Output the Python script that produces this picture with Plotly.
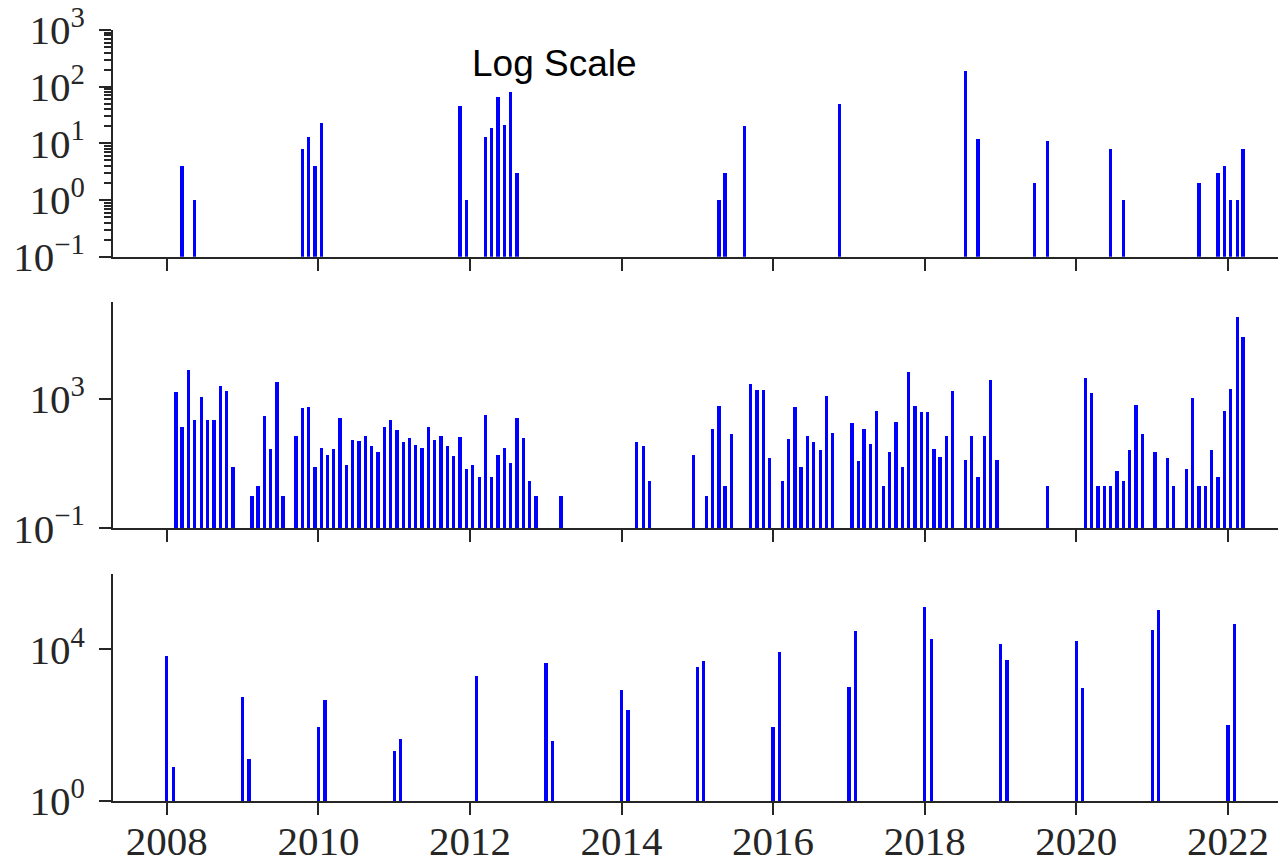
import plotly.graph_objects as go

# ---------------- data ----------------
top_months = ["2008-03", "2008-05", "2009-10", "2009-11", "2009-12", "2010-01",
              "2011-11", "2011-12", "2012-03", "2012-04", "2012-05", "2012-06",
              "2012-07", "2012-08", "2015-04", "2015-05", "2015-08", "2016-11",
              "2018-07", "2018-09", "2019-06", "2019-08", "2020-06", "2020-08",
              "2021-08", "2021-11", "2021-12", "2022-01", "2022-02", "2022-03"]
top_values = [4, 1, 8, 13, 4, 23, 45, 1, 13, 19, 66, 21, 80, 3, 1, 3, 20, 50,
              190, 12, 2, 11, 8, 1, 2, 3, 4, 1, 1, 8]

mid_months = ["2008-02", "2008-03", "2008-04", "2008-05", "2008-06", "2008-07",
              "2008-08", "2008-09", "2008-10", "2008-11", "2009-02", "2009-03",
              "2009-04", "2009-05", "2009-06", "2009-07", "2009-09", "2009-10",
              "2009-11", "2009-12", "2010-01", "2010-02", "2010-03", "2010-04",
              "2010-05", "2010-06", "2010-07", "2010-08", "2010-09", "2010-10",
              "2010-11", "2010-12", "2011-01", "2011-02", "2011-03", "2011-04",
              "2011-05", "2011-06", "2011-07", "2011-08", "2011-09", "2011-10",
              "2011-11", "2011-12", "2012-01", "2012-02", "2012-03", "2012-04",
              "2012-05", "2012-06", "2012-07", "2012-08", "2012-09", "2012-10",
              "2012-11", "2013-03", "2014-03", "2014-04", "2014-05", "2014-12",
              "2015-02", "2015-03", "2015-04", "2015-05", "2015-06", "2015-09",
              "2015-10", "2015-11", "2015-12", "2016-02", "2016-03", "2016-04",
              "2016-05", "2016-06", "2016-07", "2016-08", "2016-09", "2016-10",
              "2017-01", "2017-02", "2017-03", "2017-04", "2017-05", "2017-06",
              "2017-07", "2017-08", "2017-09", "2017-10", "2017-11", "2017-12",
              "2018-01", "2018-02", "2018-03", "2018-04", "2018-05", "2018-07",
              "2018-08", "2018-09", "2018-10", "2018-11", "2018-12", "2019-08",
              "2020-02", "2020-03", "2020-04", "2020-05", "2020-06", "2020-07",
              "2020-08", "2020-09", "2020-10", "2020-11", "2021-01", "2021-03",
              "2021-04", "2021-06", "2021-07", "2021-08", "2021-09", "2021-10",
              "2021-11", "2021-12", "2022-01", "2022-02", "2022-03"]
mid_values = [1640, 137, 8070, 225, 1150, 225,
              225, 2530, 1770, 8, 1, 2,
              300, 29, 3440, 1, 71, 516,
              582, 8, 32, 19, 29, 267,
              9, 56, 52, 71, 36, 23,
              137, 225, 113, 49, 64, 39,
              31, 137, 56, 71, 36, 18,
              67, 7, 9, 4, 320, 4,
              19, 30, 11, 267, 63, 3,
              1, 1, 48, 35, 3, 19,
              1, 122, 625, 2, 86, 2990,
              1850, 1850, 15, 3, 60, 582,
              8, 71, 49, 26, 1270, 92,
              187, 12, 122, 41, 439, 2,
              24, 200, 8, 6670, 625, 389,
              400, 29, 16, 71, 1770, 13,
              74, 4, 71, 3780, 13, 2,
              4570, 1575, 2, 2, 2, 6,
              3, 26, 671, 86, 24, 15,
              2, 7, 1074, 2, 2, 27,
              4, 417, 2095, 340000, 84300]

bot_months = ["2008-01", "2008-02", "2009-01", "2009-02", "2010-01", "2010-02",
              "2011-01", "2011-02", "2012-02", "2013-01", "2013-02", "2014-01",
              "2014-02", "2015-01", "2015-02", "2016-01", "2016-02", "2017-01",
              "2017-02", "2018-01", "2018-02", "2019-01", "2019-02", "2020-01",
              "2020-02", "2021-01", "2021-02", "2022-01", "2022-02"]
bot_values = [6800, 8, 580, 13, 90, 460,
              22, 43, 2080, 4550, 39, 865,
              263, 3490, 5030, 93, 8900, 1020,
              30600, 137000, 19200, 14100, 5250, 17400,
              960, 32500, 112000, 103, 49000]

x_tick_years = list(range(2008, 2023, 2))

top_tickvals = [0.1, 1, 10, 100, 1000]
top_ticktext = ["10<sup>\u22121</sup>", "10<sup>0</sup>", "10<sup>1</sup>",
                "10<sup>2</sup>", "10<sup>3</sup>"]
mid_tickvals = [0.1, 1000]
mid_ticktext = ["10<sup>\u22121</sup>", "10<sup>3</sup>"]
bot_tickvals = [1, 10000]
bot_ticktext = ["10<sup>0</sup>", "10<sup>4</sup>"]

title_text = "Log Scale"

# ---------------- style ----------------
BLUE = "#0000FF"
AX = "#262626"
SERIF = "Liberation Serif, Times New Roman, serif"
BAR_W = 16 * 24 * 3600 * 1000  # ms
X_RANGE = ["2007-04-17", "2022-10-08"]

fig = go.Figure()
fig.add_trace(go.Bar(x=[m + "-15" for m in top_months], y=top_values,
                     xaxis="x", yaxis="y", width=BAR_W,
                     marker=dict(color=BLUE, line=dict(width=0))))
fig.add_trace(go.Bar(x=[m + "-15" for m in mid_months], y=mid_values,
                     xaxis="x2", yaxis="y2", width=BAR_W,
                     marker=dict(color=BLUE, line=dict(width=0))))
fig.add_trace(go.Bar(x=[m + "-01" for m in bot_months], y=bot_values,
                     xaxis="x3", yaxis="y3", width=BAR_W,
                     marker=dict(color=BLUE, line=dict(width=0))))

tickvals_x = [f"{y}-01-01" for y in x_tick_years]
ticktext_x = [str(y) for y in x_tick_years]


def xaxis(anchor, labels):
    return dict(type="date", anchor=anchor, domain=[0, 1], range=X_RANGE,
                automargin=False,
                showline=True, linecolor=AX, linewidth=2,
                ticks="outside", ticklen=12, tickwidth=2, tickcolor=AX,
                tickmode="array", tickvals=tickvals_x, ticktext=ticktext_x,
                showticklabels=labels, showgrid=False, zeroline=False,
                tickfont=dict(family=SERIF, size=41, color=AX),
                ticklabelstandoff=-9, ticklabeloverflow="allow")


def yaxis(anchor, domain, rng, tv, tt, minor=None):
    d = dict(type="log", anchor=anchor, domain=domain, range=rng,
             automargin=False,
             showline=True, linecolor=AX, linewidth=2,
             ticks="outside", ticklen=12, tickwidth=2, tickcolor=AX,
             tickmode="array", tickvals=tv, ticktext=tt,
             showgrid=False, zeroline=False,
             tickfont=dict(family=SERIF, size=41, color=AX),
             ticklabelstandoff=6, ticklabeloverflow="allow")
    if minor is not None:
        d["minor"] = minor
    return d


minor_vals = [m * 10 ** e for e in range(-1, 3) for m in range(2, 10)]
top_minor = dict(ticks="outside", ticklen=7, tickwidth=1.5, tickcolor=AX,
                 tickmode="array", tickvals=minor_vals, showgrid=False)

# page body has an 8px margin: the figure is sized and offset to fit the window
fig.update_layout(
    width=1278, height=850,
    margin=dict(l=105, r=0, t=22, b=57),
    paper_bgcolor="white", plot_bgcolor="white",
    showlegend=False, bargap=0,
    xaxis=xaxis("y", False),
    xaxis2=xaxis("y2", False),
    xaxis3=xaxis("y3", True),
    yaxis=yaxis("x", [0.706, 1.0], [-1, 3], top_tickvals, top_ticktext, top_minor),
    yaxis2=yaxis("x2", [0.3537, 0.6476], [-1, 6], mid_tickvals, mid_ticktext),
    yaxis3=yaxis("x3", [0.0, 0.2949], [0, 6], bot_tickvals, bot_ticktext),
    annotations=[dict(text=title_text, xref="paper", yref="paper",
                      x=0.376, y=0.957, xanchor="center", yanchor="middle",
                      showarrow=False,
                      font=dict(family="Liberation Sans, Arial, sans-serif",
                                size=37, color="black"))],
)

fig.write_html("out.html")
